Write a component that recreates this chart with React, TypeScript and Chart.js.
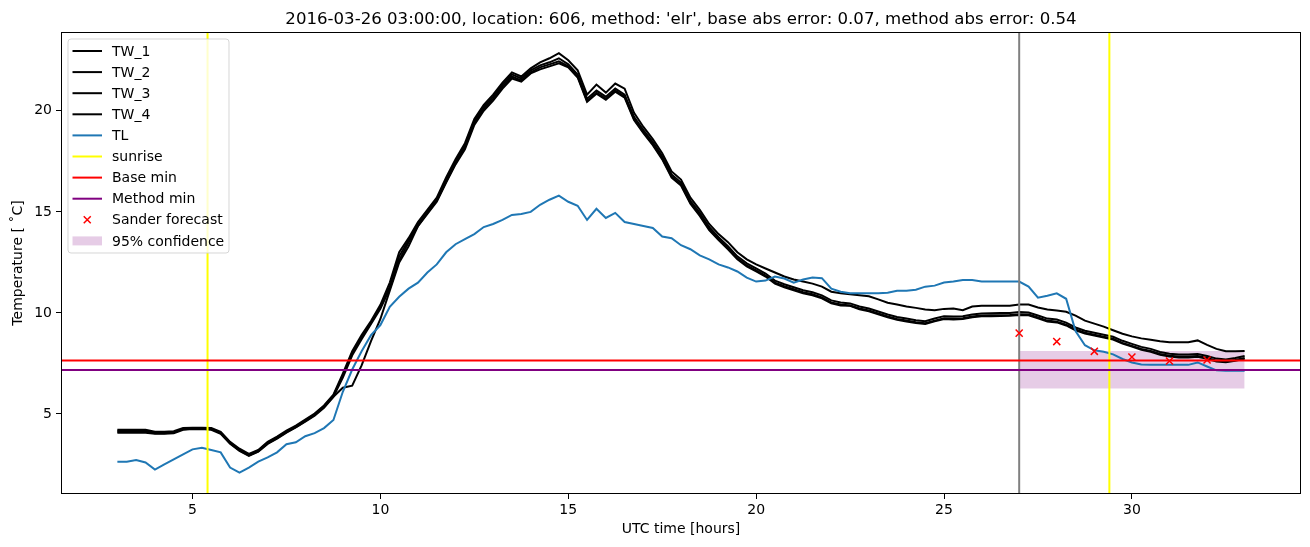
import React, { useEffect, useRef } from "react";
import { Chart, registerables } from "chart.js";

Chart.register(...registerables);

// ---------- data ----------
const HOURS = [
  3, 3.25, 3.5, 3.75, 4, 4.25, 4.5, 4.75, 5, 5.25, 5.5, 5.75, 6, 6.25, 6.5, 6.75,
  7, 7.25, 7.5, 7.75, 8, 8.25, 8.5, 8.75, 9, 9.25, 9.5, 9.75, 10, 10.25, 10.5, 10.75,
  11, 11.25, 11.5, 11.75, 12, 12.25, 12.5, 12.75, 13, 13.25, 13.5, 13.75, 14, 14.25, 14.5, 14.75,
  15, 15.25, 15.5, 15.75, 16, 16.25, 16.5, 16.75, 17, 17.25, 17.5, 17.75, 18, 18.25, 18.5, 18.75,
  19, 19.25, 19.5, 19.75, 20, 20.25, 20.5, 20.75, 21, 21.25, 21.5, 21.75, 22, 22.25, 22.5, 22.75,
  23, 23.25, 23.5, 23.75, 24, 24.25, 24.5, 24.75, 25, 25.25, 25.5, 25.75, 26, 26.25, 26.5, 26.75,
  27, 27.25, 27.5, 27.75, 28, 28.25, 28.5, 28.75, 29, 29.25, 29.5, 29.75, 30, 30.25, 30.5, 30.75,
  31, 31.25, 31.5, 31.75, 32, 32.25, 32.5, 32.75, 33,
];

const TW_1 = [
  4.22, 4.22, 4.22, 4.22, 4.12, 4.12, 4.15, 4.3,
  4.32, 4.32, 4.3, 4.12, 3.62, 3.28, 3.02, 3.22,
  3.62, 3.88, 4.18, 4.42, 4.72, 5.02, 5.42, 5.95,
  7.0, 8.1, 8.9, 9.6, 10.4, 11.5, 13.0, 13.7,
  14.5, 15.1, 15.7, 16.7, 17.6, 18.4, 19.6, 20.3,
  20.8, 21.4, 21.9, 21.7, 22.1, 22.4, 22.6, 22.85,
  22.5, 22.0, 20.8, 21.3, 20.9, 21.35, 21.1, 19.9,
  19.2, 18.6, 17.9, 17.0, 16.6, 15.7, 15.1, 14.4,
  13.9, 13.5, 13.0, 12.65, 12.4, 12.2, 12.0, 11.8,
  11.65, 11.55, 11.45, 11.3, 11.05, 10.97, 10.92, 10.87,
  10.82, 10.67, 10.5, 10.42, 10.32, 10.25, 10.17, 10.13,
  10.2, 10.22, 10.13, 10.32, 10.36, 10.36, 10.36, 10.36,
  10.42, 10.42, 10.27, 10.17, 10.12, 10.06, 9.87, 9.62,
  9.47, 9.32, 9.14, 8.97, 8.84, 8.74, 8.67, 8.6,
  8.55, 8.55, 8.55, 8.64, 8.42, 8.22, 8.1, 8.1,
  8.12,
];

const TW_2 = [
  4.17, 4.17, 4.17, 4.17, 4.08, 4.08, 4.1, 4.27,
  4.29, 4.29, 4.27, 4.08, 3.58, 3.22, 2.98, 3.18,
  3.58, 3.84, 4.13, 4.38, 4.68, 4.98, 5.38, 5.9,
  6.9, 8.0, 8.8, 9.5, 10.3, 11.3, 12.8, 13.6,
  14.4, 15.0, 15.6, 16.6, 17.5, 18.3, 19.5, 20.2,
  20.7, 21.3, 21.8, 21.6, 22.0, 22.25, 22.4, 22.6,
  22.3, 21.8, 20.6, 21.0, 20.7, 21.1, 20.8, 19.7,
  19.05, 18.45, 17.75, 16.85, 16.45, 15.55, 14.95, 14.25,
  13.75, 13.3, 12.8, 12.45, 12.2, 11.95, 11.6, 11.42,
  11.27, 11.12, 11.02, 10.87, 10.62, 10.52, 10.47, 10.32,
  10.22, 10.07, 9.92, 9.8, 9.72, 9.64, 9.59, 9.72,
  9.84, 9.82, 9.84, 9.92, 9.97, 9.98, 9.99, 10.0,
  10.04, 10.02, 9.87, 9.72, 9.67, 9.52, 9.28, 9.12,
  9.02, 8.92, 8.82, 8.62, 8.47, 8.32, 8.22, 8.07,
  7.98, 7.94, 7.94, 7.97, 7.87, 7.74, 7.7, 7.77,
  7.87,
];

const TW_3 = [
  4.12, 4.12, 4.12, 4.12, 4.05, 4.05, 4.08, 4.25,
  4.27, 4.27, 4.25, 4.05, 3.55, 3.2, 2.95, 3.15,
  3.55, 3.8, 4.1, 4.35, 4.65, 4.95, 5.35, 5.85,
  6.8, 7.9, 8.7, 9.45, 10.2, 11.2, 12.6, 13.5,
  14.3, 14.95, 15.55, 16.5, 17.4, 18.2, 19.4, 20.1,
  20.6, 21.2, 21.7, 21.5, 21.9, 22.15, 22.3, 22.45,
  22.2, 21.7, 20.5, 20.9, 20.6, 21.0, 20.7, 19.6,
  18.95, 18.35, 17.65, 16.75, 16.35, 15.45, 14.85, 14.15,
  13.65, 13.2, 12.7, 12.35, 12.1, 11.85, 11.5, 11.32,
  11.17, 11.02, 10.92, 10.77, 10.52, 10.42, 10.37, 10.22,
  10.12, 9.97, 9.82, 9.7, 9.62, 9.54, 9.49, 9.62,
  9.74, 9.72, 9.74, 9.82, 9.87, 9.88, 9.89, 9.9,
  9.94, 9.92, 9.77, 9.62, 9.57, 9.42, 9.18, 9.02,
  8.92, 8.82, 8.72, 8.52, 8.37, 8.22, 8.12, 7.97,
  7.88, 7.84, 7.84, 7.87, 7.77, 7.64, 7.6, 7.67,
  7.77,
];

const TW_4 = [
  4.07, 4.07, 4.07, 4.07, 4.02, 4.02, 4.05, 4.22,
  4.25, 4.25, 4.22, 4.02, 3.52, 3.17, 2.93, 3.13,
  3.52, 3.78, 4.08, 4.33, 4.62, 4.92, 5.3, 5.85,
  6.3, 6.4, 7.4, 8.6, 9.7, 11.1, 12.5, 13.3,
  14.3, 14.9, 15.5, 16.45, 17.35, 18.1, 19.3, 20.0,
  20.5, 21.1, 21.6, 21.45, 21.85, 22.05, 22.2, 22.35,
  22.15, 21.65, 20.45, 20.85, 20.55, 20.95, 20.65, 19.55,
  18.9, 18.3, 17.6, 16.7, 16.3, 15.4, 14.8, 14.1,
  13.6, 13.15, 12.65, 12.3, 12.05, 11.8, 11.45, 11.27,
  11.12, 10.97, 10.87, 10.72, 10.47, 10.37, 10.35, 10.18,
  10.08, 9.93, 9.78, 9.66, 9.58, 9.5, 9.45, 9.58,
  9.7, 9.68, 9.7, 9.78, 9.83, 9.84, 9.85, 9.86,
  9.9, 9.88, 9.73, 9.58, 9.53, 9.38, 9.14, 8.98,
  8.88, 8.78, 8.68, 8.48, 8.33, 8.18, 8.08, 7.93,
  7.84, 7.8, 7.8, 7.83, 7.73, 7.6, 7.56, 7.63,
  7.73,
];

const TL = [
  2.64, 2.64, 2.72, 2.6, 2.25, 2.5, 2.75, 3.0,
  3.25, 3.33, 3.22, 3.1, 2.35, 2.1, 2.35, 2.64,
  2.85, 3.1, 3.5, 3.6, 3.9, 4.05, 4.3, 4.7,
  6.1, 7.2, 8.1, 8.9, 9.4, 10.3, 10.8, 11.2,
  11.5, 12.0, 12.4, 13.0, 13.4, 13.65, 13.9, 14.25,
  14.4, 14.6, 14.85, 14.9, 15.0, 15.35, 15.6, 15.8,
  15.5, 15.3, 14.6, 15.15, 14.7, 14.95, 14.5, 14.4,
  14.3, 14.2, 13.78, 13.7, 13.35, 13.15, 12.85, 12.65,
  12.4, 12.25, 12.05, 11.75, 11.55, 11.6, 11.8, 11.7,
  11.5, 11.65, 11.75, 11.72, 11.2, 11.05, 10.97, 10.97,
  10.97, 10.97, 11.0, 11.1, 11.1, 11.15, 11.3, 11.35,
  11.5, 11.55, 11.63, 11.63, 11.55, 11.55, 11.55, 11.55,
  11.55, 11.3, 10.75, 10.85, 10.97, 10.7, 9.1, 8.4,
  8.15, 8.08, 7.95, 7.72, 7.55, 7.45, 7.43, 7.43,
  7.43, 7.43, 7.43, 7.55, 7.35, 7.16, 7.14, 7.14,
  7.14,
];

const SUNRISE_HOURS = [5.4, 29.4];
const FORECAST_START = 27;
const BASE_MIN = 7.64;
const METHOD_MIN = 7.17;
const SANDER_HOURS = [27, 28, 29, 30, 31, 32];
const SANDER_VALUES = [9.0, 8.58, 8.1, 7.82, 7.62, 7.67];
const CONF_HOURS = [27, 33];
const CONF_LOW = 6.26;
const CONF_HIGH = 8.11;

const X_TICKS = [5, 10, 15, 20, 25, 30];
const Y_TICKS = [5, 10, 15, 20];
const X_MIN = 1.5;
const X_MAX = 34.5;
const Y_MIN = 1.04;
const Y_MAX = 23.9;

const TITLE =
  "2016-03-26 03:00:00, location: 606, method: 'elr', base abs error: 0.07, method abs error: 0.54";
const X_LABEL = "UTC time [hours]";
const Y_LABEL = "Temperature [ \u02DAC]";

const FONT = "'DejaVu Sans', sans-serif";

// ---------- plugin: spines, title, matplotlib-like legend ----------
const mplPlugin = {
  id: "mplDecor",
  afterDraw(chart: any) {
    const { ctx, chartArea } = chart;
    const { left, right, top, bottom } = chartArea;
    ctx.save();
    // spines
    ctx.strokeStyle = "#000";
    ctx.lineWidth = 1;
    ctx.strokeRect(left + 0.5, top + 0.5, right - left - 1, bottom - top - 1);

    // title
    ctx.fillStyle = "#000";
    ctx.font = `16.6px ${FONT}`;
    ctx.textAlign = "center";
    ctx.textBaseline = "alphabetic";
    ctx.fillText(TITLE, (left + right) / 2, 24);

    // legend
    const items = chart.data.datasets.filter((d: any) => d.legendKind && d.legendKind !== "none");
    const bx = left + 7;
    const by = top + 7;
    const rowH = 21.1;
    const bw = 161;
    const bh = 214;
    ctx.beginPath();
    const r = 3;
    ctx.moveTo(bx + r, by);
    ctx.lineTo(bx + bw - r, by);
    ctx.quadraticCurveTo(bx + bw, by, bx + bw, by + r);
    ctx.lineTo(bx + bw, by + bh - r);
    ctx.quadraticCurveTo(bx + bw, by + bh, bx + bw - r, by + bh);
    ctx.lineTo(bx + r, by + bh);
    ctx.quadraticCurveTo(bx, by + bh, bx, by + bh - r);
    ctx.lineTo(bx, by + r);
    ctx.quadraticCurveTo(bx, by, bx + r, by);
    ctx.closePath();
    ctx.fillStyle = "rgba(255,255,255,0.8)";
    ctx.fill();
    ctx.strokeStyle = "rgba(204,204,204,0.8)";
    ctx.lineWidth = 1;
    ctx.stroke();

    ctx.font = `14px ${FONT}`;
    ctx.textAlign = "left";
    ctx.textBaseline = "middle";
    items.forEach((d: any, i: number) => {
      const cy = by + 12 + i * rowH;
      const hx0 = bx + 4.5;
      const hx1 = bx + 34;
      if (d.legendKind === "line") {
        ctx.strokeStyle = d.borderColor;
        ctx.lineWidth = d.borderWidth;
        ctx.beginPath();
        ctx.moveTo(hx0, cy);
        ctx.lineTo(hx1, cy);
        ctx.stroke();
      } else if (d.legendKind === "marker") {
        const cx = (hx0 + hx1) / 2;
        const s = 3.5;
        ctx.strokeStyle = d.borderColor;
        ctx.lineWidth = d.borderWidth;
        ctx.beginPath();
        ctx.moveTo(cx - s, cy - s);
        ctx.lineTo(cx + s, cy + s);
        ctx.moveTo(cx - s, cy + s);
        ctx.lineTo(cx + s, cy - s);
        ctx.stroke();
      } else if (d.legendKind === "patch") {
        ctx.fillStyle = d.backgroundColor;
        ctx.fillRect(hx0, cy - 4.5, hx1 - hx0, 9);
      }
      ctx.fillStyle = "#000";
      ctx.fillText(d.label, bx + 44, cy + 1);
    });
    ctx.restore();
  },
};

export default function App() {
  const ref = useRef<HTMLCanvasElement>(null);

  useEffect(() => {
    document.body.style.margin = "0";
    const canvas = ref.current;
    if (!canvas) return;

    const pts = (ys: number[]) => HOURS.map((x, i) => ({ x, y: ys[i] }));
    const line = (label: string, ys: number[], color: string, order: number) => ({
      label,
      data: pts(ys),
      borderColor: color,
      backgroundColor: color,
      borderWidth: 2,
      pointRadius: 0,
      tension: 0,
      fill: false,
      order,
      legendKind: "line",
    });

    const sunriseData: any[] = [];
    SUNRISE_HOURS.forEach((h, i) => {
      if (i > 0) sunriseData.push({ x: h, y: null });
      sunriseData.push({ x: h, y: Y_MIN });
      sunriseData.push({ x: h, y: Y_MAX });
    });

    const datasets: any[] = [
      line("TW_1", TW_1, "#000000", 13),
      line("TW_2", TW_2, "#000000", 12),
      line("TW_3", TW_3, "#000000", 11),
      line("TW_4", TW_4, "#000000", 10),
      line("TL", TL, "#1f77b4", 9),
      {
        label: "sunrise",
        data: sunriseData,
        borderColor: "#ffff00",
        borderWidth: 2,
        pointRadius: 0,
        spanGaps: false,
        fill: false,
        order: 8,
        legendKind: "line",
      },
      {
        label: "Base min",
        data: [
          { x: X_MIN, y: BASE_MIN },
          { x: X_MAX, y: BASE_MIN },
        ],
        borderColor: "#ff0000",
        borderWidth: 2,
        pointRadius: 0,
        fill: false,
        order: 6,
        legendKind: "line",
      },
      {
        label: "Method min",
        data: [
          { x: X_MIN, y: METHOD_MIN },
          { x: X_MAX, y: METHOD_MIN },
        ],
        borderColor: "#800080",
        borderWidth: 2,
        pointRadius: 0,
        fill: false,
        order: 5,
        legendKind: "line",
      },
      {
        label: "Sander forecast",
        data: SANDER_HOURS.map((x, i) => ({ x, y: SANDER_VALUES[i] })),
        showLine: false,
        pointStyle: "crossRot",
        pointRadius: 5,
        borderColor: "#ff0000",
        backgroundColor: "#ff0000",
        borderWidth: 1.5,
        order: 4,
        legendKind: "marker",
      },
      {
        label: "95% confidence",
        data: CONF_HOURS.map((x) => ({ x, y: CONF_HIGH })),
        borderColor: "rgba(0,0,0,0)",
        backgroundColor: "rgba(128,0,128,0.2)",
        borderWidth: 1,
        pointRadius: 0,
        fill: "+1",
        order: 20,
        legendKind: "patch",
      },
      {
        label: "",
        data: CONF_HOURS.map((x) => ({ x, y: CONF_LOW })),
        borderColor: "rgba(0,0,0,0)",
        borderWidth: 1,
        pointRadius: 0,
        fill: false,
        order: 21,
        legendKind: "none",
      },
      {
        label: "",
        data: [
          { x: FORECAST_START, y: Y_MIN },
          { x: FORECAST_START, y: Y_MAX },
        ],
        borderColor: "#808080",
        borderWidth: 2,
        pointRadius: 0,
        fill: false,
        order: 7,
        legendKind: "none",
      },
    ];

    const tickFont = { family: FONT, size: 14 };

    const chart = new Chart(canvas, {
      type: "line",
      data: { datasets },
      plugins: [mplPlugin],
      options: {
        animation: false,
        responsive: true,
        maintainAspectRatio: false,
        events: [],
        layout: { padding: { top: 32, right: 9, bottom: 0, left: 0 } },
        plugins: {
          legend: { display: false },
          tooltip: { enabled: false },
          title: { display: false },
        },
        scales: {
          x: {
            type: "linear",
            min: X_MIN,
            max: X_MAX,
            afterFit: (s: any) => {
              s.height = 53;
            },
            afterBuildTicks: (s: any) => {
              s.ticks = X_TICKS.map((v) => ({ value: v }));
            },
            grid: {
              display: true,
              drawOnChartArea: false,
              drawTicks: true,
              tickLength: 5,
              color: "#000",
              lineWidth: 1,
            },
            border: { display: false },
            ticks: {
              color: "#000",
              font: tickFont,
              padding: 3,
              maxRotation: 0,
              autoSkip: false,
            },
            title: {
              display: true,
              text: X_LABEL,
              color: "#000",
              font: tickFont,
              padding: { top: 0, bottom: 9 },
            },
          },
          y: {
            type: "linear",
            min: Y_MIN,
            max: Y_MAX,
            afterFit: (s: any) => {
              s.width = 61;
            },
            afterBuildTicks: (s: any) => {
              s.ticks = Y_TICKS.map((v) => ({ value: v }));
            },
            grid: {
              display: true,
              drawOnChartArea: false,
              drawTicks: true,
              tickLength: 5,
              color: "#000",
              lineWidth: 1,
            },
            border: { display: false },
            ticks: {
              color: "#000",
              font: tickFont,
              padding: 4,
              autoSkip: false,
            },
            title: {
              display: true,
              text: Y_LABEL,
              color: "#000",
              font: tickFont,
              padding: { top: 10, bottom: 0 },
            },
          },
        },
      } as any,
    });

    return () => chart.destroy();
  }, []);

  return (
    <div style={{ width: 1310, height: 547, position: "relative" }}>
      <canvas ref={ref} />
    </div>
  );
}
